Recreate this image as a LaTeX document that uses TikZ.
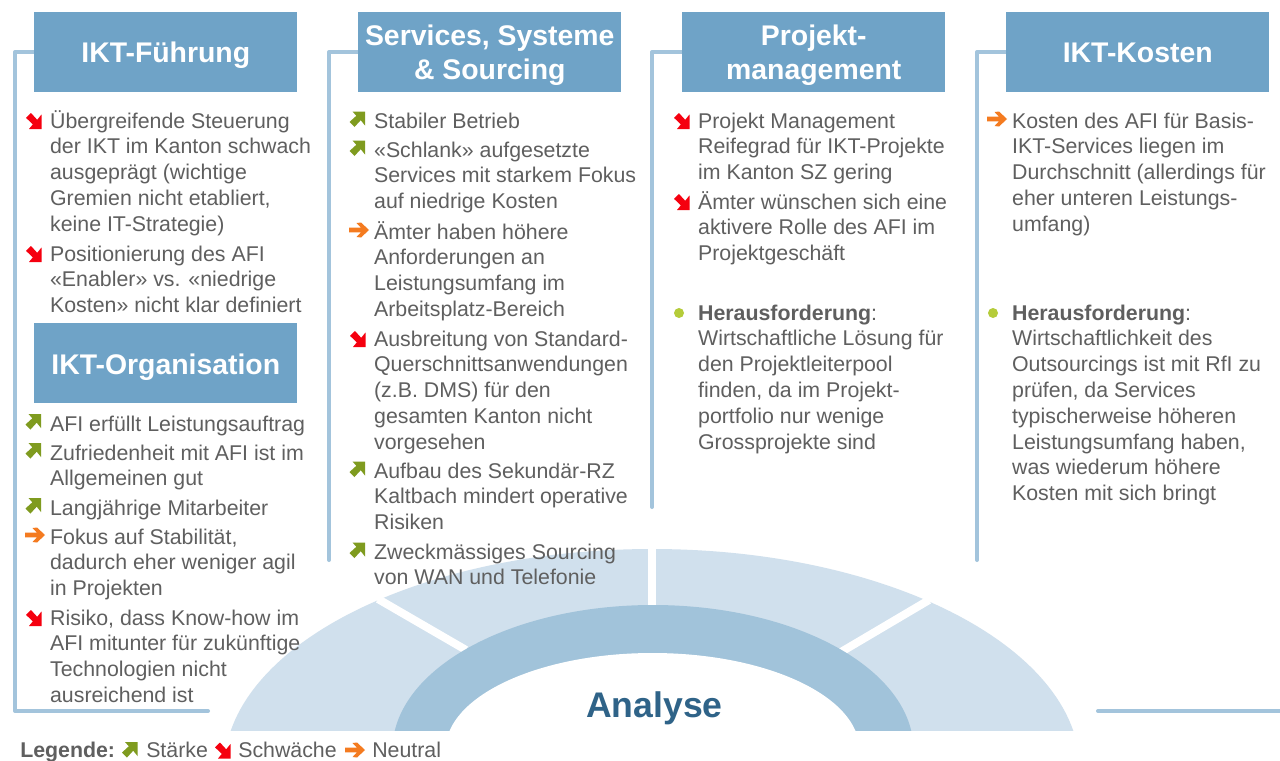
\documentclass[tikz,border=0pt]{standalone}
\usepackage{fontspec}
\setmainfont{Liberation Sans}
\definecolor{boxblue}{HTML}{6FA3C7}
\definecolor{linkblue}{HTML}{A3C4DC}
\definecolor{arcpale}{HTML}{D0E0ED}
\definecolor{arcmid}{HTML}{A1C3DA}
\definecolor{txtgray}{HTML}{5F5F5F}
\definecolor{anblue}{HTML}{2F6388}
\definecolor{stgreen}{HTML}{7F9B1F}
\definecolor{wkred}{HTML}{F5000F}
\definecolor{ntorange}{HTML}{F47B20}
\definecolor{bulgreen}{HTML}{B5CC3A}
\newcommand{\fs}{\rule{0pt}{15pt}}
\tikzset{
  x=0.75pt,y=-0.75pt,
  headbox/.style={fill=boxblue,draw=none,minimum width=197.25pt,minimum height=60pt,inner sep=0pt,anchor=north west},
  headtext/.style={inner sep=0pt,yshift=-2.25pt,text=white,align=center,font=\fontsize{21.3}{25.5}\selectfont\bfseries},
  itemtext/.style={anchor=north west,inner sep=0pt,align=left,xshift=-0.1pt,yshift=9.1pt,text=txtgray,
    font=\fontsize{16}{19.35}\selectfont},
  legendtext/.style={anchor=base west,inner sep=0pt,text=txtgray,font=\fontsize{16}{19.35}\selectfont},
  bracket/.style={draw=linkblue,line width=3pt,line join=round,line cap=round},
  iconup/.pic={\fill[stgreen] (7.5,-7.5) -- (-5,-7.5) -- (-1.2,-3.2) -- (-8,3) -- (-3,8) -- (3.2,1.2) -- (7.5,6.5) -- cycle;},
  icondown/.pic={\fill[wkred] (7.5,8) -- (-5,8) -- (-1.2,3.4) -- (-8,-3.2) -- (-3,-8) -- (3.2,-1.2) -- (7.5,-6.5) -- cycle;},
  iconright/.pic={\fill[ntorange] (-10,-2.4) -- (2,-2.4) -- (-2.5,-7) -- (2,-7.5) -- (10,0) -- (2,7.5) -- (-2.5,7) -- (2,2.4) -- (-10,2.4) -- cycle;},
  bulletdot/.style={circle,fill=bulgreen,draw=none,minimum size=7.5pt,inner sep=0pt},
}
\begin{document}
\begin{tikzpicture}
\useasboundingbox (0,0) rectangle (1280,760);
\fill[white] (0,0) rectangle (1280,760);
% arcs
\begin{scope}
\clip (0,0) rectangle (1280,730);
\fill[arcpale] (652,770) ellipse [x radius=428,y radius=221];
\fill[white] (648,540) rectangle (656,610);
\draw[white,line width=6pt] (378,599) -- (466,650);
\draw[white,line width=6pt] (929,600) -- (841,652);
\fill[arcmid] (653,750) ellipse [x radius=260.5,y radius=145];
\fill[white] (652.5,750) ellipse [x radius=207,y radius=97];
\end{scope}
% frame lines
\coordinate (c1a) at (15,52); \coordinate (c1b) at (15,711); \coordinate (c1c) at (208,711); \coordinate (c1h) at (36,52);
\coordinate (c2a) at (329,52); \coordinate (c2b) at (329,560); \coordinate (c2h) at (360,52);
\coordinate (c3a) at (652,52); \coordinate (c3b) at (652,507); \coordinate (c3h) at (684,52);
\coordinate (c4a) at (977,52); \coordinate (c4b) at (977,560); \coordinate (c4h) at (1008,52);
\coordinate (c5a) at (1098,711); \coordinate (c5b) at (1283,711);
\draw[bracket] (c1c) -- (c1b) -- (c1a) -- (c1h);
\draw[bracket] (c2b) -- (c2a) -- (c2h);
\draw[bracket] (c3b) -- (c3a) -- (c3h);
\draw[bracket] (c4b) -- (c4a) -- (c4h);
\draw[bracket] (c5a) -- (c5b);
% heads
\node[headbox] (h1) at (34,12) {};
\node[headtext] (t1) at (h1) {IKT-Führung};
\node[headbox] (h2) at (358,12) {};
\node[headtext] (t2) at (h2) {Services, Systeme\\\& Sourcing};
\node[headbox] (h3) at (682,12) {};
\node[headtext] (t3) at (h3) {Projekt-\\management};
\node[headbox] (h4) at (1006,12) {};
\node[headtext,yshift=1.5pt] (t4) at (h4) {IKT-Kosten};
\node[headbox] (h5) at (34,323) {};
\node[headtext,yshift=-0.6pt] (t5) at (h5) {IKT-Organisation};
% column 1
\pic at (34,121) {icondown};
\node[itemtext] (a1) at (50,120) {\fs Übergreifende Steuerung\\der IKT im Kanton schwach\\ausgeprägt (wichtige\\Gremien nicht etabliert,\\keine IT-Strategie)};
\pic at (34,254) {icondown};
\node[itemtext] (a2) at (50,253) {\fs Positionierung des AFI\\«Enabler» vs. «niedrige\\Kosten» nicht klar definiert};
% organisation
\pic at (33.5,421.5) {iconup};
\node[itemtext] (o1) at (50,423) {\fs AFI erfüllt Leistungsauftrag};
\pic at (33.5,450.5) {iconup};
\node[itemtext] (o2) at (50,452) {\fs Zufriedenheit mit AFI ist im\\Allgemeinen gut};
\pic at (33.5,505.5) {iconup};
\node[itemtext] (o3) at (50,507) {\fs Langjährige Mitarbeiter};
\pic at (35,535) {iconright};
\node[itemtext] (o4) at (50,536) {\fs Fokus auf Stabilität,\\dadurch eher weniger agil\\in Projekten};
\pic at (34,618) {icondown};
\node[itemtext] (o5) at (50,617) {\fs Risiko, dass Know-how im\\AFI mitunter für zukünftige\\Technologien nicht\\ausreichend ist};
% column 2
\pic at (357.5,119) {iconup};
\node[itemtext] (b1) at (374,120) {\fs Stabiler Betrieb};
\pic at (357.5,148) {iconup};
\node[itemtext] (b2) at (374,149) {\fs «Schlank» aufgesetzte\\Services mit starkem Fokus\\auf niedrige Kosten};
\pic at (359,230) {iconright};
\node[itemtext] (b3) at (374,231) {\fs Ämter haben höhere\\Anforderungen an\\Leistungsumfang im\\Arbeitsplatz-Bereich};
\pic at (358,339) {icondown};
\node[itemtext] (b4) at (374,338) {\fs Ausbreitung von Standard-\\Querschnittsanwendungen\\(z.B. DMS) für den\\gesamten Kanton nicht\\vorgesehen};
\pic at (357.5,469) {iconup};
\node[itemtext] (b5) at (374,470) {\fs Aufbau des Sekundär-RZ\\Kaltbach mindert operative\\Risiken};
\pic at (357.5,550) {iconup};
\node[itemtext] (b6) at (374,551) {\fs Zweckmässiges Sourcing\\von WAN und Telefonie};
% column 3
\pic at (682,121) {icondown};
\node[itemtext] (c1) at (698,120) {\fs Projekt Management\\Reifegrad für IKT-Projekte\\im Kanton SZ gering};
\pic at (682,202) {icondown};
\node[itemtext] (c2) at (698,201) {\fs Ämter wünschen sich eine\\aktivere Rolle des AFI im\\Projektgeschäft};
\node[bulletdot] (c3b1) at (679,313) {};
\node[itemtext] (c3) at (698,312) {\fs\textbf{Herausforderung}:\\Wirtschaftliche Lösung für\\den Projektleiterpool\\finden, da im Projekt-\\portfolio nur wenige\\Grossprojekte sind};
% column 4
\pic at (997,119) {iconright};
\node[itemtext] (d1) at (1012,120) {\fs Kosten des AFI für Basis-\\IKT-Services liegen im\\Durchschnitt (allerdings für\\eher unteren Leistungs-\\umfang)};
\node[bulletdot] (d2b) at (993,313) {};
\node[itemtext] (d2) at (1012,312) {\fs\textbf{Herausforderung}:\\Wirtschaftlichkeit des\\Outsourcings ist mit RfI zu\\prüfen, da Services\\typischerweise höheren\\Leistungsumfang haben,\\was wiederum höhere\\Kosten mit sich bringt};
% centre and legend
\node[text=anblue,font=\fontsize{26.7}{32}\selectfont\bfseries,inner sep=0pt] (an) at (654.5,708.5) {Analyse};
\node[legendtext] (l0) at (20,757) {\textbf{Legende:}};
\pic at (130,749.5) {iconup};
\node[legendtext] (l1) at (146,757) {Stärke};
\pic at (223,750.5) {icondown};
\node[legendtext] (l2) at (238,757) {Schwäche};
\pic at (355,750) {iconright};
\node[legendtext] (l3) at (372,757) {Neutral};
\end{tikzpicture}
\end{document}
